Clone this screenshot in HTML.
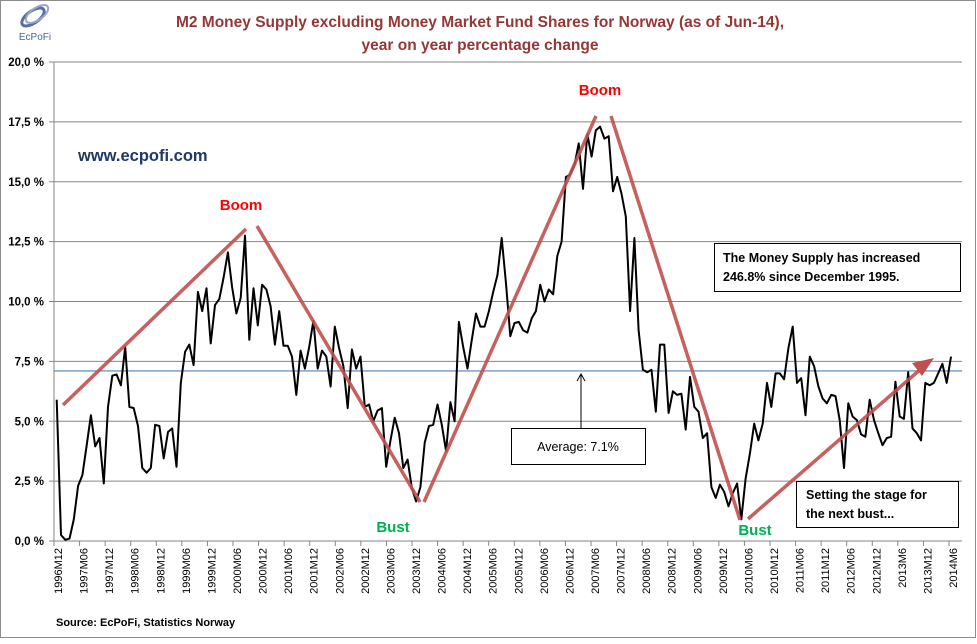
<!DOCTYPE html>
<html><head><meta charset="utf-8"><style>
body{margin:0;background:#fff;}
svg text{font-family:"Liberation Sans",sans-serif;}
</style></head><body>
<svg id="chart" width="977" height="639" xmlns="http://www.w3.org/2000/svg">
<rect x="0.5" y="0.5" width="975" height="637" fill="#fff" stroke="#8c8c8c"/>
<g>
<ellipse cx="33" cy="17" rx="13" ry="6" fill="none" stroke="#5470a8" stroke-width="3" transform="rotate(-35 33 17)"/>
<ellipse cx="37" cy="14" rx="13" ry="6" fill="none" stroke="#9aa6c8" stroke-width="2" transform="rotate(-35 37 14)"/>
<text x="35" y="40" font-size="10" fill="#4a63a0" text-anchor="middle">EcPoFi</text>
</g>
<text x="480" y="27" font-size="15.5" font-weight="bold" fill="#953735" text-anchor="middle">M2 Money Supply excluding Money Market Fund Shares for Norway (as of Jun-14),</text>
<text x="480" y="50" font-size="15.5" font-weight="bold" fill="#953735" text-anchor="middle">year on year percentage change</text>
<g id="grid"></g>
<g id="axes"></g>
<g id="series"></g>
<g id="ann"></g>
<text x="56" y="626" font-size="11" font-weight="bold" fill="#000">Source: EcPoFi,  Statistics Norway</text>
</svg>
<script>
const yTicks=[0,2.5,5,7.5,10,12.5,15,17.5,20];
const yTickLabels=["0,0 %","2,5 %","5,0 %","7,5 %","10,0 %","12,5 %","15,0 %","17,5 %","20,0 %"];
const xTickLabels=["1996M12","1997M06","1997M12","1998M06","1998M12","1999M06","1999M12","2000M06","2000M12","2001M06","2001M12","2002M06","2002M12","2003M06","2003M12","2004M06","2004M12","2005M06","2005M12","2006M06","2006M12","2007M06","2007M12","2008M06","2008M12","2009M06","2009M12","2010M06","2010M12","2011M06","2011M12","2012M06","2012M12","2013M6","2013M12","2014M6"];
const averageValue=7.1;
const m2Growth=[5.9,0.25,0.05,0.1,0.9,2.3,2.75,4.0,5.25,3.95,4.3,2.4,5.6,6.9,6.95,6.5,8.1,5.6,5.55,4.8,3.05,2.85,3.05,4.85,4.8,3.45,4.55,4.7,3.1,6.6,7.9,8.2,7.35,10.4,9.6,10.55,8.25,9.85,10.1,11,12.05,10.6,9.5,10.15,12.75,8.4,10.55,9.0,10.7,10.5,9.8,8.2,9.6,8.15,8.15,7.7,6.1,7.95,7.2,8.1,9.2,7.2,7.95,7.7,6.45,8.95,
8.05,7.3,5.55,8.0,7.2,7.7,5.6,5.7,5.0,5.45,5.55,3.1,4.2,5.15,4.5,3.05,3.4,2.2,1.65,2.25,4.1,4.8,4.85,5.7,4.85,3.75,5.8,5.0,9.15,8.1,7.2,8.4,9.5,8.95,8.95,9.6,10.4,11.1,12.65,10.75,8.55,9.1,9.15,8.8,8.7,9.3,9.6,10.7,10.0,10.5,10.3,11.9,12.5,15.2,15.3,15.7,16.6,14.7,17.0,16.05,17.15,17.3,16.8,16.9,14.6,15.2,14.5,13.55,9.6,12.65,
8.8,7.15,7.05,7.15,5.4,8.2,8.2,5.35,6.25,6.1,6.15,4.65,6.85,5.6,5.4,4.3,4.5,2.25,1.8,2.35,2.05,1.45,2.0,2.4,0.9,2.6,3.65,4.9,4.2,4.9,6.6,5.6,7.0,7.0,6.75,8.05,8.95,6.6,6.8,5.25,7.7,7.3,6.45,5.95,5.75,6.1,6.05,5.05,3.05,5.75,5.2,5.05,4.45,4.35,5.9,5.05,4.5,4.0,4.3,4.35,6.65,5.2,5.1,7.05,4.7,4.5,4.2,6.6,6.5,6.6,7.0,7.4,6.6,7.7];

const NS="http://www.w3.org/2000/svg";
const X0=54,X1=962,Y0=541,Y1=62;
const tickStep=(949-54)/35;
function y(v){return Y0-(v/20)*(Y0-Y1);}
function x(i){return 56.7+i*(951-56.7)/(m2Growth.length-1);}
function mk(tag,attrs,parent){const e=document.createElementNS(NS,tag);for(const k in attrs)e.setAttribute(k,attrs[k]);parent.appendChild(e);return e;}
const grid=document.getElementById('grid'),axes=document.getElementById('axes'),series=document.getElementById('series');
yTicks.forEach((t,k)=>{
  if(t>0){const g=mk('line',{x1:X0,x2:X1,y1:y(t),y2:y(t),stroke:'#868686','stroke-width':1},grid);
  
  }
  const tk=mk('line',{x1:49,x2:X0,y1:y(t),y2:y(t),stroke:'#868686'},axes);
  
  
  const lb=mk('text',{x:44,y:y(t)+4,'font-size':11.5,'font-weight':'bold','text-anchor':'end',fill:'#000'},axes);
  lb.textContent=yTickLabels[k];
  
  
});
const ya=mk('line',{x1:X0,x2:X0,y1:Y1,y2:Y0,stroke:'#868686'},axes);


const xa=mk('line',{x1:X0,x2:X1,y1:Y0,y2:Y0,stroke:'#868686'},axes);


xTickLabels.forEach((l,k)=>{
  const tx=X0+k*tickStep;
  const tk=mk('line',{x1:tx,x2:tx,y1:Y0,y2:Y0+5,stroke:'#868686'},axes);
  
  
  const lx=tx+8, ly=548;
  const lb=mk('text',{x:lx,y:ly,'font-size':11,'text-anchor':'end',fill:'#000',transform:`rotate(-90 ${lx} ${ly})`},axes);
  lb.textContent=l;
  
  
});
const avg=mk('line',{x1:X0,x2:X1,y1:y(averageValue),y2:y(averageValue),stroke:'#4f81bd','stroke-width':1.2},series);


const pts=m2Growth.map((v,i)=>x(i).toFixed(1)+','+y(v).toFixed(1)).join(' ');
const pl=mk('polyline',{points:pts,fill:'none',stroke:'#000','stroke-width':2,'stroke-linejoin':'round'},series);


</script>
<svg style="position:absolute;left:0;top:0" width="977" height="639">
<defs><marker id="ah" markerWidth="8" markerHeight="8" refX="4" refY="4" orient="auto" markerUnits="userSpaceOnUse"><path d="M0,0 L12,4 L0,8 Z" fill="#c0504d" transform="scale(1.3) translate(-2,-1)"/></marker></defs>
<g stroke="#c0504d" stroke-width="3.5" stroke-opacity="0.9" fill="none">
<line x1="63" y1="405" x2="246" y2="229"/>
<line x1="257" y1="226" x2="420" y2="502"/>
<line x1="424" y1="502" x2="596" y2="116"/>
<line x1="611" y1="116" x2="740" y2="520"/>
<line x1="748" y1="519" x2="922" y2="368"/>
</g>
<polygon points="934,358 912,363 922,376" fill="#c0504d"/>
<text x="241" y="210" font-size="15" font-weight="bold" fill="#ff0000" text-anchor="middle" font-family="Liberation Sans, sans-serif">Boom</text>
<text x="600" y="95" font-size="15" font-weight="bold" fill="#ff0000" text-anchor="middle" font-family="Liberation Sans, sans-serif">Boom</text>
<text x="393" y="532" font-size="15" font-weight="bold" fill="#00b050" text-anchor="middle" font-family="Liberation Sans, sans-serif">Bust</text>
<text x="755" y="535" font-size="15" font-weight="bold" fill="#00b050" text-anchor="middle" font-family="Liberation Sans, sans-serif">Bust</text>
<text x="78" y="161" font-size="16.5" font-weight="bold" fill="#1f3864" font-family="Liberation Sans, sans-serif">www.ecpofi.com</text>
<g>
<rect x="714.5" y="243.5" width="246" height="48" fill="#fff" stroke="#000"/>
<text x="723" y="262" font-size="12.5" font-weight="bold" fill="#000" font-family="Liberation Sans, sans-serif">The Money Supply has  increased</text>
<text x="723" y="281" font-size="12.5" font-weight="bold" fill="#000" font-family="Liberation Sans, sans-serif">246.8%  since December 1995.</text>
</g>
<line x1="581" y1="428" x2="581" y2="374" stroke="#000" stroke-width="1"/>
<polyline points="577,381 581,374 585,381" fill="none" stroke="#000"/>
<g>
<rect x="511.5" y="428.5" width="134" height="36" fill="#fff" stroke="#000"/>
<text x="578" y="451" font-size="12.5" fill="#000" text-anchor="middle" font-family="Liberation Sans, sans-serif">Average: 7.1%</text>
</g>
<g>
<rect x="796.5" y="481.5" width="162" height="46" fill="#fff" stroke="#000"/>
<text x="806" y="499" font-size="12.5" font-weight="bold" fill="#000" font-family="Liberation Sans, sans-serif">Setting the stage for</text>
<text x="806" y="518" font-size="12.5" font-weight="bold" fill="#000" font-family="Liberation Sans, sans-serif">the next bust...</text>
</g>
</svg>
</body></html>
